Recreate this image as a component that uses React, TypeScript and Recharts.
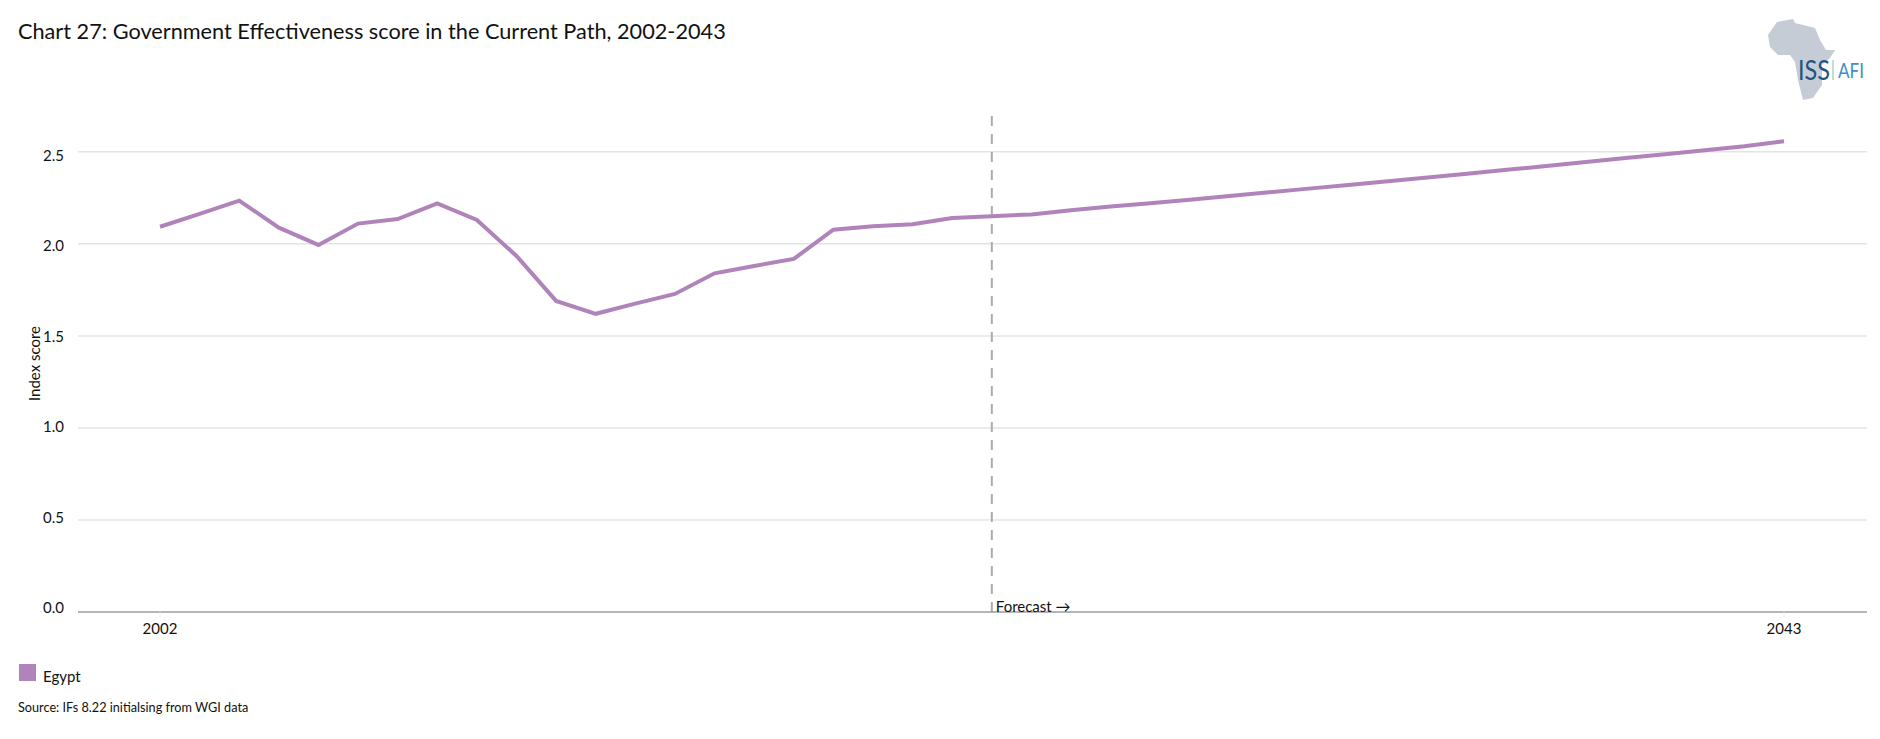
import { CartesianGrid, Line, LineChart, ReferenceLine, XAxis, YAxis } from "recharts";

const years = [
  2002, 2003, 2004, 2005, 2006, 2007, 2008, 2009, 2010, 2011, 2012, 2013, 2014, 2015,
  2016, 2017, 2018, 2019, 2020, 2021, 2022, 2023, 2024, 2025, 2026, 2027, 2028, 2029,
  2030, 2031, 2032, 2033, 2034, 2035, 2036, 2037, 2038, 2039, 2040, 2041, 2042, 2043
];
const egypt = [
  2.093, 2.163, 2.235, 2.088, 1.994, 2.11, 2.135, 2.22, 2.13, 1.934, 1.69, 1.62, 1.675, 1.728,
  1.84, 1.88, 1.918, 2.077, 2.095, 2.106, 2.14, 2.15, 2.16, 2.182, 2.203, 2.221, 2.24, 2.26,
  2.28, 2.3, 2.32, 2.34, 2.36, 2.381, 2.402, 2.423, 2.445, 2.466, 2.487, 2.508, 2.53, 2.557
];
const yTicks = [0, 0.5, 1, 1.5, 2, 2.5];
const xTicks = [2002, 2043];
const chartData = years.map((year, i) => ({ year, Egypt: egypt[i] }));

const FONT = "Lato, sans-serif";
const LINE_COLOR = "#b083ba";

// the labels in the original drift against the gridlines: above at 0.0, below at 2.5
function YTick({ x, y, payload }: any) {
  return (
    <text x={x} y={y + 5 - 4 + payload.value * 3.2} textAnchor="end" fontSize={15} fontFamily={FONT} fill="#111">
      {payload.value.toFixed(1)}
    </text>
  );
}

function AfricaLogo() {
  return (
    <svg width={140} height={110} style={{ position: "absolute", left: 1740, top: 0 }}>
      <polygon
        points="37,22 53,19 55,23 63,25 75,28 80,40 86,50 95,50 90,58 82,65 82,85 73,98 63,100 58,80 55,62 50,55 38,55 30,47 28,35"
        fill="#c5ccd5"
      />
      <text x={58} y={80} fontSize={27} fontFamily={FONT} fill="#24527f" textLength={32} lengthAdjust="spacingAndGlyphs">ISS</text>
      <line x1={93} y1={60} x2={93} y2={80} stroke="#c6dccf" strokeWidth={2} />
      <text x={98} y={78} fontSize={21} fontFamily={FONT} fill="#3f8fc4" textLength={26} lengthAdjust="spacingAndGlyphs">AFI</text>
    </svg>
  );
}

export default function App() {
  return (
    <div style={{ position: "absolute", left: 0, top: 0, width: 1880, height: 739, background: "#fff", overflow: "hidden" }}>
      <div style={{ position: "absolute", left: 18, top: 18, fontFamily: FONT, fontSize: 21.7, color: "#111", whiteSpace: "nowrap" }}>
        Chart 27: Government Effectiveness score in the Current Path, 2002-2043
      </div>
      <LineChart width={1880} height={739} data={chartData} margin={{ top: 115, right: 13, bottom: 97, left: 0 }}>
        <CartesianGrid horizontal vertical={false} horizontalValues={yTicks} stroke="#e4e4e4" strokeWidth={1.5} />
        <XAxis
          dataKey="year"
          type="number"
          domain={[2002, 2043]}
          ticks={xTicks}
          padding={{ left: 82, right: 83 }}
          height={30}
          axisLine={{ stroke: "#808080", strokeWidth: 1.2 }}
          tickLine={{ stroke: "#eeeeee" }}
          tickSize={6}
          tick={{ fontSize: 15, fontFamily: FONT, fill: "#111" }}
          tickMargin={5}
        />
        <YAxis
          type="number"
          domain={[0, 2.7]}
          ticks={yTicks}
          width={78}
          axisLine={false}
          tickLine={false}
          tickMargin={8}
          tick={<YTick />}
          label={{ value: "Index score", angle: -90, position: "insideLeft", offset: 35, style: { fontSize: 15, fontFamily: FONT, fill: "#111", textAnchor: "middle" } }}
        />
        <ReferenceLine
          x={2023}
          stroke="#ababab"
          strokeWidth={2}
          strokeDasharray="10 8"
          label={{ value: "Forecast →", position: "insideBottomLeft", offset: 4, dy: 4, style: { fontSize: 15, fontFamily: FONT, fill: "#111" } }}
        />
        <Line dataKey="Egypt" stroke={LINE_COLOR} strokeWidth={4} dot={false} isAnimationActive={false} />
      </LineChart>
      <AfricaLogo />
      <div style={{ position: "absolute", left: 19, top: 664, display: "flex", fontFamily: FONT, fontSize: 15, color: "#111" }}>
        <span style={{ width: 17, height: 17, background: LINE_COLOR, display: "inline-block" }} />
        <span style={{ marginLeft: 7, marginTop: 3 }}>Egypt</span>
      </div>
      <div style={{ position: "absolute", left: 18, top: 699, fontFamily: FONT, fontSize: 12.7, color: "#111", whiteSpace: "nowrap" }}>
        Source: IFs 8.22 initialsing from WGI data
      </div>
    </div>
  );
}
